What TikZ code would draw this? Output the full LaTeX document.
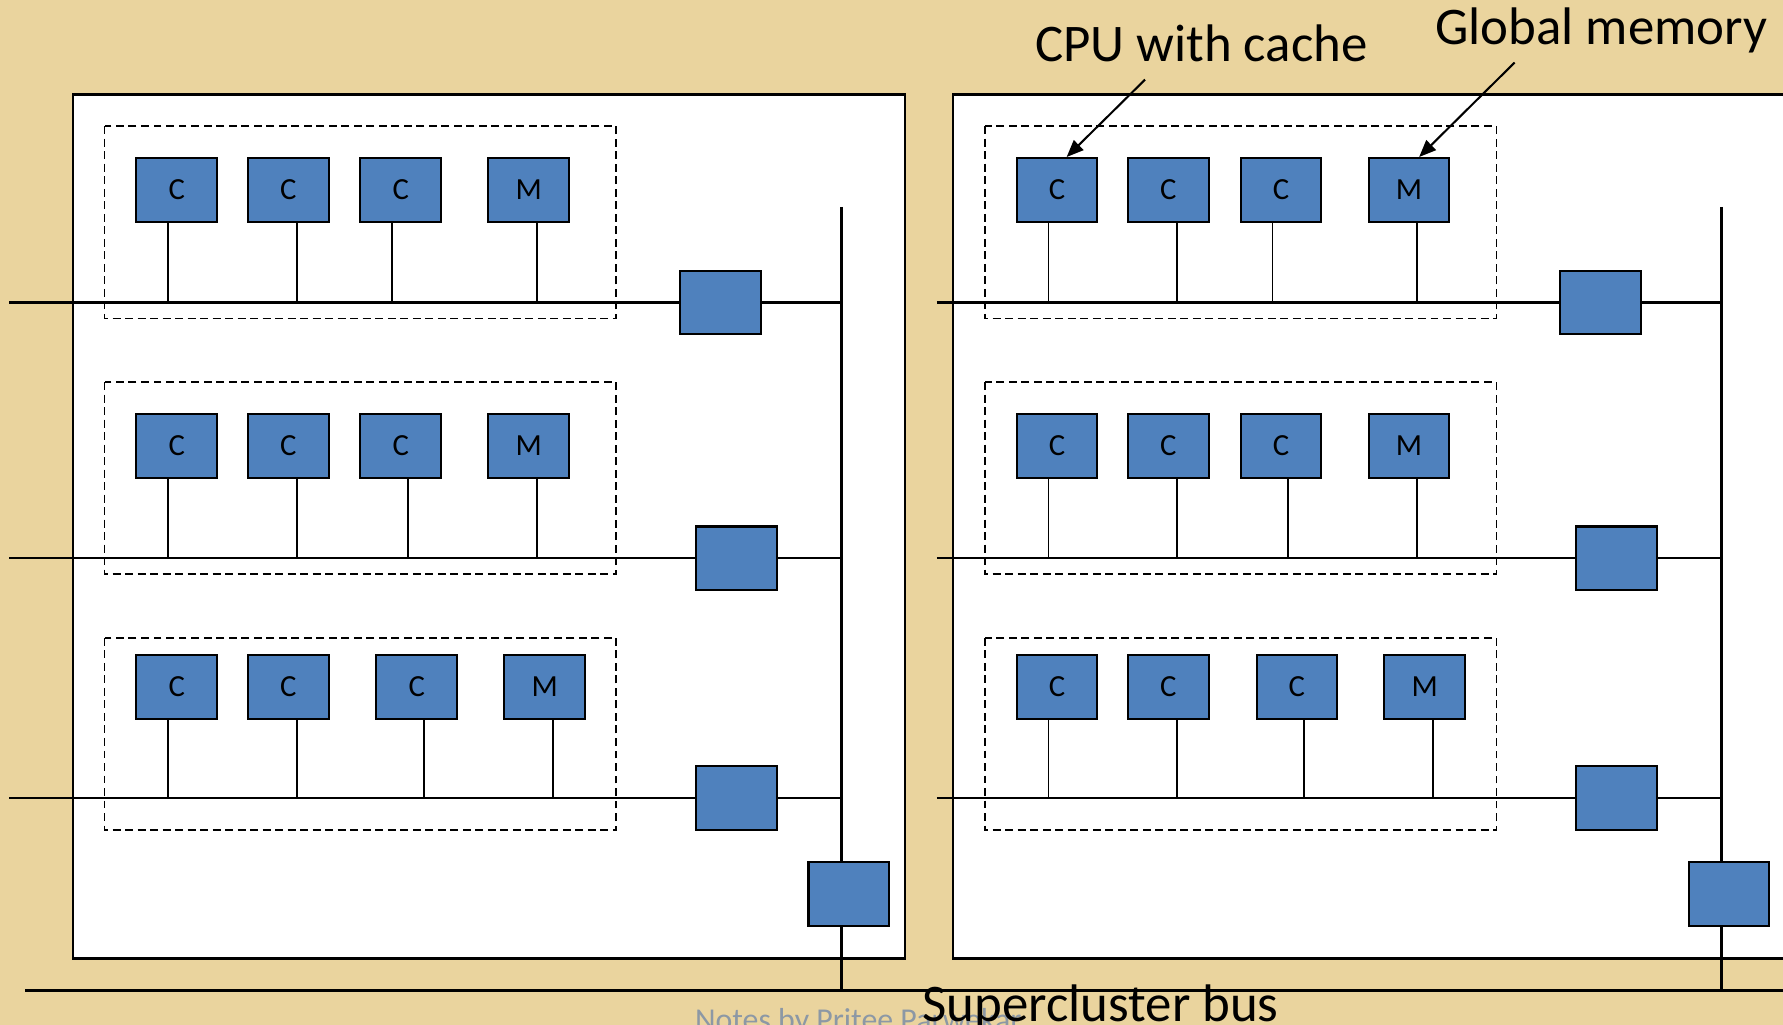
\documentclass[tikz,border=0pt]{standalone}
\usepackage{fontspec}
\setmainfont{Carlito}
\usetikzlibrary{arrows.meta}

\definecolor{parch}{RGB}{234,212,158}
\definecolor{unitblue}{RGB}{79,129,189}
\definecolor{notegray}{RGB}{140,152,165}

\tikzset{
  cpubox/.style={draw=black, line width=1.8pt, fill=unitblue, minimum width=71pt,
    minimum height=56pt, inner sep=0pt, font=\fontsize{27}{31}\selectfont},
  switchbox/.style={draw=black, line width=1.8pt, fill=unitblue, minimum width=71pt,
    minimum height=56pt, inner sep=0pt},
  clusterframe/.style={draw=black, line width=2pt, fill=white},
  groupframe/.style={draw=black, line width=1.5pt, dash pattern=on 7pt off 4pt},
  busline/.style={draw=black, line width=2pt},
  stemline/.style={draw=black, line width=1.6pt},
  callout/.style={draw=black, line width=1.8pt, -{Triangle[length=15pt,width=12pt]}},
  bigtext/.style={font=\fontsize{46.5}{52}\selectfont, anchor=base west, inner sep=0pt},
}

% One row of a cluster: dashed group, local bus, processors/memory, switch
% #1 row name, #2 box centre y, #3 bus y, #4/#5 dashed top/bottom,
% #6 switch centre x, #7 list of boxcentre/stem/letter, #8 bus start x
\newcommand\drawrow[8]{%
  \draw[groupframe] (92,#4) rectangle (542,#5);
  \coordinate (#1w) at (#8,#3);
  \coordinate (#1e) at (740,#3);
  \draw[busline] (#1w) -- (#1e);
  \foreach \bx/\sx/\lt [count=\k] in {#7} {
    \node[cpubox] (#1b\k) at (\bx,#2) {\lt};
    \coordinate (#1t\k) at (\sx,#3);
    \draw[stemline] (#1b\k.south -| #1t\k) -- (#1t\k);
  }
  \node[switchbox] (#1sw) at (#6,#3) {};
}

% A whole cluster: frame, three rows, cluster bus and its interface
% #1 cluster name, #2 x offset, #3 local bus start x
\newcommand\drawcluster[3]{%
  \begin{scope}[xshift=#2pt]
    \draw[clusterframe] (64,83) rectangle (796,843);
    \drawrow{#1r1}{167}{266}{111}{280}{633.5}{155.5/148/C,253.5/261/C,352.5/345/C,465/472/M}{#3}
    \drawrow{#1r2}{392}{491}{336}{505}{647.5}{155.5/148/C,253.5/261/C,352.5/359/C,465/472/M}{#3}
    \drawrow{#1r3}{604}{702}{561}{730}{647.5}{155.5/148/C,253.5/261/C,366.5/373/C,479/486/M}{#3}
    \coordinate (#1top) at (740,182);
    \coordinate (#1foot) at (740,871);
    \draw[busline] (#1top) -- (#1foot);
    \node[switchbox] (#1link) at (746.5,786) {};
  \end{scope}
}

\begin{document}
\begin{tikzpicture}[x=1pt,y=-1pt]
  \useasboundingbox (0,0) rectangle (1568,901);
  \clip (0,0) rectangle (1568,901);
  \fill[parch] (0,0) rectangle (1568,901);

  \drawcluster{L}{0}{8}
  \drawcluster{R}{774}{50}

  % supercluster bus
  \coordinate (scw) at (22,871);
  \coordinate (sce) at (1580,871);
  \draw[busline] (scw) -- (sce);

  % callouts
  \node[bigtext] (cpulbl) at (910,53.7) {CPU with cache};
  \node[bigtext] (memlbl) at (1262,39) {Global memory};
  \coordinate (cputail) at (1007,70);
  \coordinate (memtail) at (1332,55);
  \draw[callout] (cputail) -- ([xshift=8.5pt]Rr1b1.north);
  \draw[callout] (memtail) -- ([xshift=9pt]Rr1b4.north);

  % footer
  \node[anchor=base west, inner sep=0pt, text=notegray, font=\fontsize{28}{32}\selectfont]
    (notes) at (611,906) {Notes by Pritee Parwekar};
  \node[bigtext] (sclbl) at (811,898) {Supercluster bus};
\end{tikzpicture}
\end{document}
